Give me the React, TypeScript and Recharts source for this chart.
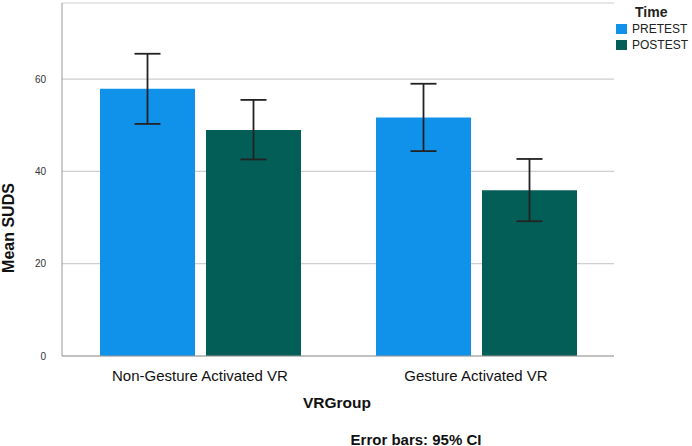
import { BarChart, Bar, XAxis, YAxis, CartesianGrid, ErrorBar } from "recharts";

const groups = ["Non-Gesture Activated VR", "Gesture Activated VR"];
const seriesNames = ["PRETEST", "POSTEST"];
const pretestMean = [57.9, 51.7];
const pretestLow = [50.3, 44.4];
const pretestHigh = [65.5, 59.0];
const posttestMean = [49.0, 35.9];
const posttestLow = [42.6, 29.2];
const posttestHigh = [55.5, 42.7];
const yTicks = [0, 20, 40, 60];

const COLORS = ["#1192EA", "#045E58"];
const FONT = "Arial, 'Liberation Sans', sans-serif";

const data = groups.map((g, i) => ({
  group: g,
  pretest: pretestMean[i],
  pretestErr: [pretestMean[i] - pretestLow[i], pretestHigh[i] - pretestMean[i]],
  posttest: posttestMean[i],
  posttestErr: [posttestMean[i] - posttestLow[i], posttestHigh[i] - posttestMean[i]],
}));

export default function App() {
  return (
    <div style={{ position: "absolute", left: 0, top: 0, width: 692, height: 446, fontFamily: FONT, background: "#fff" }}>
      <BarChart
        width={692}
        height={446}
        data={data}
        margin={{ top: 3, right: 78, bottom: 60, left: 0 }}
        barGap={11}
        barSize={95}
      >
        <CartesianGrid vertical={false} stroke="#cfcfcf" strokeWidth={1.2} />
        <XAxis
          dataKey="group"
          height={30}
          tickLine={false}
          tickSize={6}
          tickMargin={8}
          stroke="#9a9a9a"
          tick={{ fill: "#111", fontSize: 15, fontFamily: FONT }}
        />
        <YAxis
          width={62}
          domain={[0, 76.5]}
          ticks={yTicks}
          tickLine={false}
          tickSize={6}
          tickMargin={10}
          stroke="#9a9a9a"
          tick={{ fill: "#333", fontSize: 10, fontFamily: FONT }}
        />
        <Bar dataKey="pretest" name={seriesNames[0]} fill={COLORS[0]} isAnimationActive={false}>
          <ErrorBar dataKey="pretestErr" width={13} stroke="#222" strokeWidth={1.8} />
        </Bar>
        <Bar dataKey="posttest" name={seriesNames[1]} fill={COLORS[1]} isAnimationActive={false}>
          <ErrorBar dataKey="posttestErr" width={13} stroke="#222" strokeWidth={1.8} />
        </Bar>
      </BarChart>
      <div style={{ position: "absolute", left: 616, top: 3, color: "#222" }}>
        <div style={{ fontWeight: "bold", fontSize: 14, marginLeft: 19, lineHeight: "18px" }}>Time</div>
        {seriesNames.map((name, i) => (
          <div key={name} style={{ display: "flex", alignItems: "center", height: 16, fontSize: 12 }}>
            <span style={{ width: 11, height: 10, background: COLORS[i], display: "inline-block", marginRight: 5 }} />
            {name}
          </div>
        ))}
      </div>
      <div
        style={{
          position: "absolute",
          left: 9,
          top: 228,
          transform: "translate(-50%, -50%) rotate(-90deg)",
          fontWeight: "bold",
          fontSize: 16,
          whiteSpace: "nowrap",
          color: "#111",
        }}
      >
        Mean SUDS
      </div>
      <div
        style={{
          position: "absolute",
          left: 337,
          top: 403,
          transform: "translate(-50%, -50%)",
          fontWeight: "bold",
          fontSize: 15.5,
          whiteSpace: "nowrap",
          color: "#111",
        }}
      >
        VRGroup
      </div>
      <div
        style={{
          position: "absolute",
          left: 416,
          top: 439,
          transform: "translate(-50%, -50%)",
          fontWeight: "bold",
          fontSize: 15,
          whiteSpace: "nowrap",
          color: "#111",
        }}
      >
        Error bars: 95% CI
      </div>
    </div>
  );
}
